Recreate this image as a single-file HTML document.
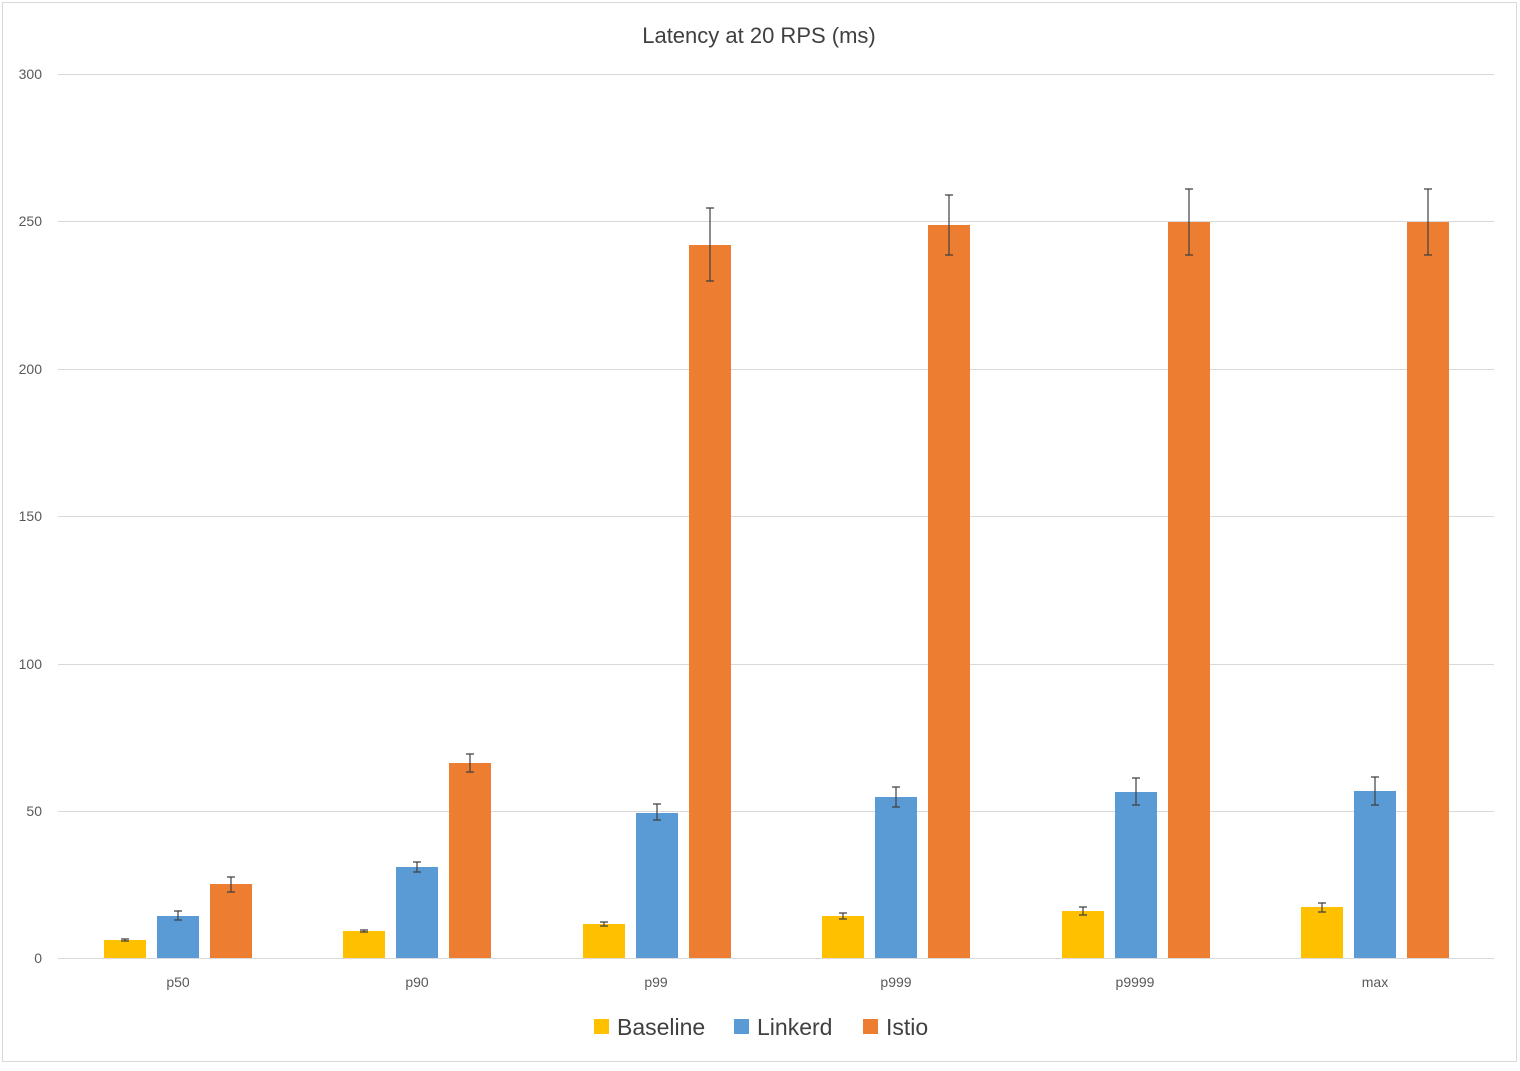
<!DOCTYPE html>
<html><head><meta charset="utf-8"><style>body{margin:0;background:#fff}</style></head><body>
<svg width="1520" height="1066" xmlns="http://www.w3.org/2000/svg" font-family="Liberation Sans, sans-serif">
<rect x="0" y="0" width="1520" height="1066" fill="#fff"/>
<rect x="2.5" y="2.5" width="1514" height="1059" fill="none" stroke="#d9d9d9"/>
<text x="759" y="43" text-anchor="middle" font-size="22" fill="#404040">Latency at 20 RPS (ms)</text>
<g stroke="#d9d9d9" stroke-width="1">
<line x1="58" x2="1494" y1="74.5" y2="74.5"/><line x1="58" x2="1494" y1="221.5" y2="221.5"/>
<line x1="58" x2="1494" y1="369.5" y2="369.5"/><line x1="58" x2="1494" y1="516.5" y2="516.5"/>
<line x1="58" x2="1494" y1="664.5" y2="664.5"/><line x1="58" x2="1494" y1="811.5" y2="811.5"/>
<line x1="58" x2="1494" y1="958.5" y2="958.5"/></g>
<g font-size="14" fill="#595959" text-anchor="end">
<text x="42" y="79">300</text><text x="42" y="226">250</text><text x="42" y="374">200</text>
<text x="42" y="521">150</text><text x="42" y="669">100</text><text x="42" y="816">50</text><text x="42" y="963">0</text></g>
<g font-size="14" fill="#595959" text-anchor="middle">
<text x="178" y="987">p50</text><text x="417" y="987">p90</text><text x="656" y="987">p99</text>
<text x="896" y="987">p999</text><text x="1135" y="987">p9999</text><text x="1375" y="987">max</text></g>
<g id="bars">
<rect x="104" y="940" width="42" height="18" fill="#ffc000"/><rect x="157" y="916" width="42" height="42" fill="#5b9bd5"/><rect x="210" y="884" width="42" height="74" fill="#ed7d31"/>
<rect x="343" y="931" width="42" height="27" fill="#ffc000"/><rect x="396" y="867" width="42" height="91" fill="#5b9bd5"/><rect x="449" y="763" width="42" height="195" fill="#ed7d31"/>
<rect x="583" y="924" width="42" height="34" fill="#ffc000"/><rect x="636" y="813" width="42" height="145" fill="#5b9bd5"/><rect x="689" y="245" width="42" height="713" fill="#ed7d31"/>
<rect x="822" y="916" width="42" height="42" fill="#ffc000"/><rect x="875" y="797" width="42" height="161" fill="#5b9bd5"/><rect x="928" y="225" width="42" height="733" fill="#ed7d31"/>
<rect x="1062" y="911" width="42" height="47" fill="#ffc000"/><rect x="1115" y="792" width="42" height="166" fill="#5b9bd5"/><rect x="1168" y="222" width="42" height="736" fill="#ed7d31"/>
<rect x="1301" y="907" width="42" height="51" fill="#ffc000"/><rect x="1354" y="791" width="42" height="167" fill="#5b9bd5"/><rect x="1407" y="222" width="42" height="736" fill="#ed7d31"/>
</g>
<g stroke="#404040" stroke-width="1.2" fill="none">
<path d="M125 939v2M121 939h8M121 941h8"/>
<path d="M178 911v9M174 911h8M174 920h8"/>
<path d="M231 877v15M227 877h8M227 892h8"/>
<path d="M364 930v2M360 930h8M360 932h8"/>
<path d="M417 862v10M413 862h8M413 872h8"/>
<path d="M470 754v18M466 754h8M466 772h8"/>
<path d="M604 922v4M600 922h8M600 926h8"/>
<path d="M657 804v16M653 804h8M653 820h8"/>
<path d="M710 208v73M706 208h8M706 281h8"/>
<path d="M843 913v6M839 913h8M839 919h8"/>
<path d="M896 787v20M892 787h8M892 807h8"/>
<path d="M949 195v60M945 195h8M945 255h8"/>
<path d="M1083 907v8M1079 907h8M1079 915h8"/>
<path d="M1136 778v27M1132 778h8M1132 805h8"/>
<path d="M1189 189v66M1185 189h8M1185 255h8"/>
<path d="M1322 903v9M1318 903h8M1318 912h8"/>
<path d="M1375 777v28M1371 777h8M1371 805h8"/>
<path d="M1428 189v66M1424 189h8M1424 255h8"/>
</g>
<rect x="594" y="1019" width="15" height="15" fill="#ffc000"/>
<text x="617" y="1035" font-size="23" fill="#404040">Baseline</text>
<rect x="734" y="1019" width="15" height="15" fill="#5b9bd5"/>
<text x="757" y="1035" font-size="23" fill="#404040">Linkerd</text>
<rect x="863" y="1019" width="15" height="15" fill="#ed7d31"/>
<text x="886" y="1035" font-size="23" fill="#404040">Istio</text>
</svg>
</body></html>
